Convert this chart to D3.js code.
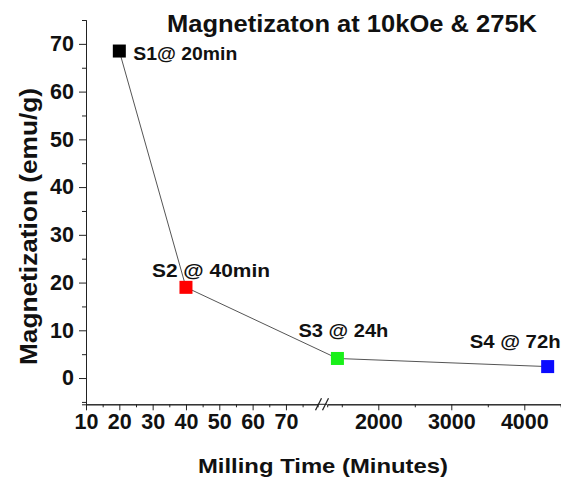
<!DOCTYPE html>
<html>
<head>
<meta charset="utf-8">
<script src="https://cdn.jsdelivr.net/npm/d3@7"></script>
<style>
  body { margin: 0; background: #fff; }
  svg text { font-family: Arial, "Liberation Sans", sans-serif; font-weight: bold; fill: #111; }
</style>
</head>
<body>
<div id="chart"></div>
<script>
// data
const samples = ['S1@ 20min', 'S2 @ 40min', 'S3 @ 24h', 'S4 @ 72h'];
const millingMinutes = [20, 40, 1440, 4320];
const magnetization = [68.5, 19.0, 4.1, 2.4];
const markerColors = ['#000000', '#ff0000', '#19f019', '#0a0aff'];
const leftTicks = [10, 20, 30, 40, 50, 60, 70];
const rightTicks = [2000, 3000, 4000];
const yTicks = [0, 10, 20, 30, 40, 50, 60, 70];

const width = 561;
const height = 483;

const svg = d3.select('#chart').append('svg')
    .attr('width', width)
    .attr('height', height);

const y = d3.scaleLinear().domain([-5.5, 75]).range([404.3, 20]);
const xLeft = d3.scaleLinear().domain([10, 79.5]).range([86, 317.6]);
const xRight = d3.scaleLinear().domain([1300, 4500]).range([327.2, 560.8]);
const breakAt = 100;
const x = (v) => v < breakAt ? xLeft(v) : xRight(v);
const axisY = y.range()[0];
const fmt = d3.format('d');

// x axis, two segments with a break
const xAxisLeft = svg.append('g')
    .attr('transform', `translate(0,${axisY})`)
    .call(d3.axisBottom(xLeft).tickValues(leftTicks).tickFormat(fmt).tickSize(6).tickSizeOuter(0));
svg.append('g')
    .attr('transform', `translate(0,${axisY})`)
    .call(d3.axisBottom(xLeft).tickValues(d3.range(15, 80, 10)).tickSize(3).tickFormat(''));
const xAxisRight = svg.append('g')
    .attr('transform', `translate(0,${axisY})`)
    .call(d3.axisBottom(xRight).tickValues(rightTicks).tickFormat(fmt).tickSize(6).tickSizeOuter(0));
svg.append('g')
    .attr('transform', `translate(0,${axisY})`)
    .call(d3.axisBottom(xRight).tickValues([1500, 2500, 3500, 4500]).tickSize(3).tickFormat(''));
// join the two axis segments
svg.append('line')
    .attr('x1', xLeft.range()[1]).attr('x2', xRight.range()[0])
    .attr('y1', axisY).attr('y2', axisY)
    .style('stroke', '#222');
// break marks
[318.5, 325.5].forEach((bx) => {
  svg.append('line')
      .attr('x1', bx - 3).attr('y1', axisY + 6)
      .attr('x2', bx + 3).attr('y2', axisY - 6)
      .style('stroke', '#222')
      .style('stroke-width', 1.3);
});

const yAxis = svg.append('g')
    .attr('transform', `translate(${xLeft.range()[0]},0)`)
    .call(d3.axisLeft(y).tickValues(yTicks).tickFormat(fmt).tickSize(7).tickSizeOuter(0));
svg.append('g')
    .attr('transform', `translate(${xLeft.range()[0]},0)`)
    .call(d3.axisLeft(y).tickValues([-5, 5, 15, 25, 35, 45, 55, 65, 75]).tickSize(4).tickFormat(''));

svg.selectAll('.domain, .tick line').style('stroke', '#222');
svg.selectAll('.tick text')
    .style('font-size', '21.5px')
    .style('font-family', 'Arial, "Liberation Sans", sans-serif')
    .style('font-weight', 'bold')
    .attr('fill', '#111');
xAxisLeft.selectAll('.tick text').attr('y', 9);
xAxisRight.selectAll('.tick text').attr('y', 9);
yAxis.selectAll('.tick text').attr('x', -12);

// connecting line
const points = millingMinutes.map((m, i) => [x(m), y(magnetization[i])]);
svg.append('path')
    .attr('d', d3.line()(points))
    .style('fill', 'none')
    .style('stroke', '#555')
    .style('stroke-width', 1);

// square markers
const size = 13;
svg.selectAll('rect.marker')
    .data(samples)
    .enter()
    .append('rect')
    .classed('marker', true)
    .attr('x', (d, i) => x(millingMinutes[i]) - size / 2)
    .attr('y', (d, i) => y(magnetization[i]) - size / 2)
    .attr('width', size)
    .attr('height', size)
    .attr('fill', (d, i) => markerColors[i]);

// point labels: offset from the marker and width
const labelLayout = [[14, 8.5, 104], [-34, -10, 118], [-39, -21, 90], [-78, -19, 91]];
svg.selectAll('text.point-label')
    .data(samples)
    .enter()
    .append('text')
    .classed('point-label', true)
    .attr('x', (d, i) => x(millingMinutes[i]) + labelLayout[i][0])
    .attr('y', (d, i) => y(magnetization[i]) + labelLayout[i][1])
    .attr('textLength', (d, i) => labelLayout[i][2])
    .attr('lengthAdjust', 'spacingAndGlyphs')
    .style('font-size', '17.5px')
    .text((d) => d);

// titles
svg.append('text')
    .attr('x', 167)
    .attr('y', 31.5)
    .attr('textLength', 370)
    .attr('lengthAdjust', 'spacingAndGlyphs')
    .style('font-size', '23px')
    .text('Magnetizaton at 10kOe & 275K');

svg.append('text')
    .attr('x', 198)
    .attr('y', 472.7)
    .attr('textLength', 250)
    .attr('lengthAdjust', 'spacingAndGlyphs')
    .style('font-size', '21px')
    .text('Milling Time (Minutes)');

svg.append('text')
    .attr('transform', 'translate(36.7,365) rotate(-90)')
    .attr('textLength', 277)
    .attr('lengthAdjust', 'spacingAndGlyphs')
    .style('font-size', '23px')
    .text('Magnetization (emu/g)');
</script>
</body>
</html>
